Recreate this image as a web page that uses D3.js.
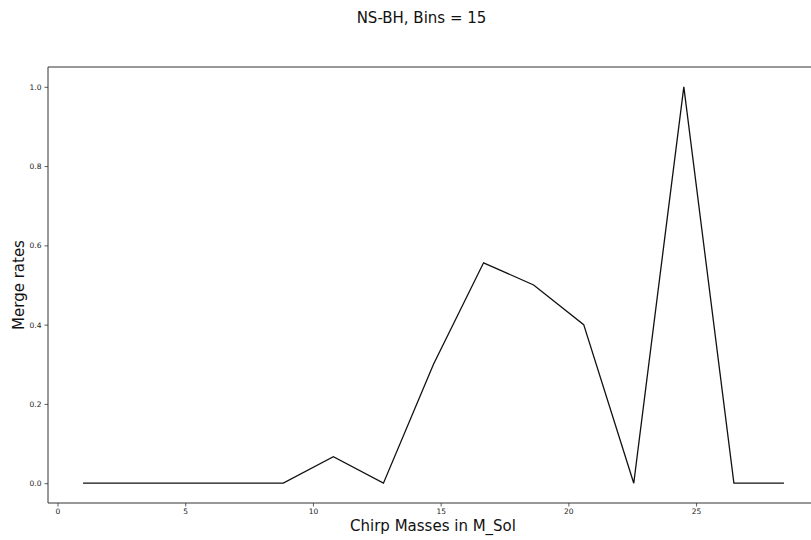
<!DOCTYPE html>
<html>
<head>
<meta charset="utf-8">
<script src="https://cdn.jsdelivr.net/npm/d3@7"></script>
<style>
  body { margin: 0; background: #fff; }
  svg { display: block; font-family: "DejaVu Sans", sans-serif; }
</style>
</head>
<body>
<svg id="chart" width="811" height="540"></svg>
<script>
const xValues = [1.0, 2.96, 4.92, 6.88, 8.84, 10.8, 12.76, 14.72, 16.68, 18.64, 20.6, 22.56, 24.52, 26.48, 28.44];
const yValues = [0, 0, 0, 0, 0, 0.0667, 0, 0.3, 0.556, 0.5, 0.4, 0, 1.0, 0, 0];
const xTicks = [0, 5, 10, 15, 20, 25];
const yTicks = [0.0, 0.2, 0.4, 0.6, 0.8, 1.0];
const titleText = "NS-BH, Bins = 15";
const xLabel = "Chirp Masses in M_Sol";
const yLabel = "Merge rates";

(function () {
const svg = d3.select("#chart");
const pLeft = 48, pRight = 819, pTop = 67, pBottom = 503;

const xs = d3.scaleLinear().domain([-0.372, 29.812]).range([pLeft, pRight]);
const ys = d3.scaleLinear().domain([-0.05, 1.05]).range([pBottom, pTop]);

const xAxis = d3.axisBottom(xs).tickValues(xTicks).tickFormat(d3.format("d")).tickSizeOuter(0).tickSize(3.5).tickPadding(2);
const yAxis = d3.axisLeft(ys).tickValues(yTicks).tickFormat(d3.format(".1f")).tickSizeOuter(0).tickSize(3.5).tickPadding(3);

const gx = svg.append("g").attr("transform", `translate(0,${pBottom})`).call(xAxis);
const gy = svg.append("g").attr("transform", `translate(${pLeft},0)`).call(yAxis);
[gx, gy].forEach(g => {
  g.select(".domain").remove();
  g.selectAll("line").attr("stroke", "#333").attr("stroke-width", 0.8);
  g.selectAll("text").attr("font-family", "DejaVu Sans, sans-serif").attr("font-size", 7.5).attr("fill", "#222");
});

svg.append("line").attr("x1", pLeft).attr("x2", pRight).attr("y1", pBottom).attr("y2", pBottom).attr("stroke", "#333").attr("stroke-width", 1);
svg.append("line").attr("x1", pLeft).attr("x2", pRight).attr("y1", pTop).attr("y2", pTop).attr("stroke", "#333").attr("stroke-width", 1);
svg.append("line").attr("x1", pLeft).attr("x2", pLeft).attr("y1", pTop).attr("y2", pBottom).attr("stroke", "#333").attr("stroke-width", 1);

const line = d3.line().x((d, i) => xs(xValues[i])).y(d => ys(d));
svg.append("path").datum(yValues).attr("d", line).attr("fill", "none").attr("stroke", "#111").attr("stroke-width", 1.3).attr("stroke-linejoin", "miter");

svg.append("text").attr("x", 421.5).attr("y", 23).attr("text-anchor", "middle").attr("font-size", 15).attr("fill", "#111").text(titleText);
svg.append("text").attr("x", 433).attr("y", 531).attr("text-anchor", "middle").attr("font-size", 15).attr("fill", "#111").text(xLabel);
svg.append("text").attr("transform", `translate(24,285) rotate(-90)`).attr("text-anchor", "middle").attr("font-size", 15).attr("fill", "#111").text(yLabel);
})();
</script>
</body>
</html>
